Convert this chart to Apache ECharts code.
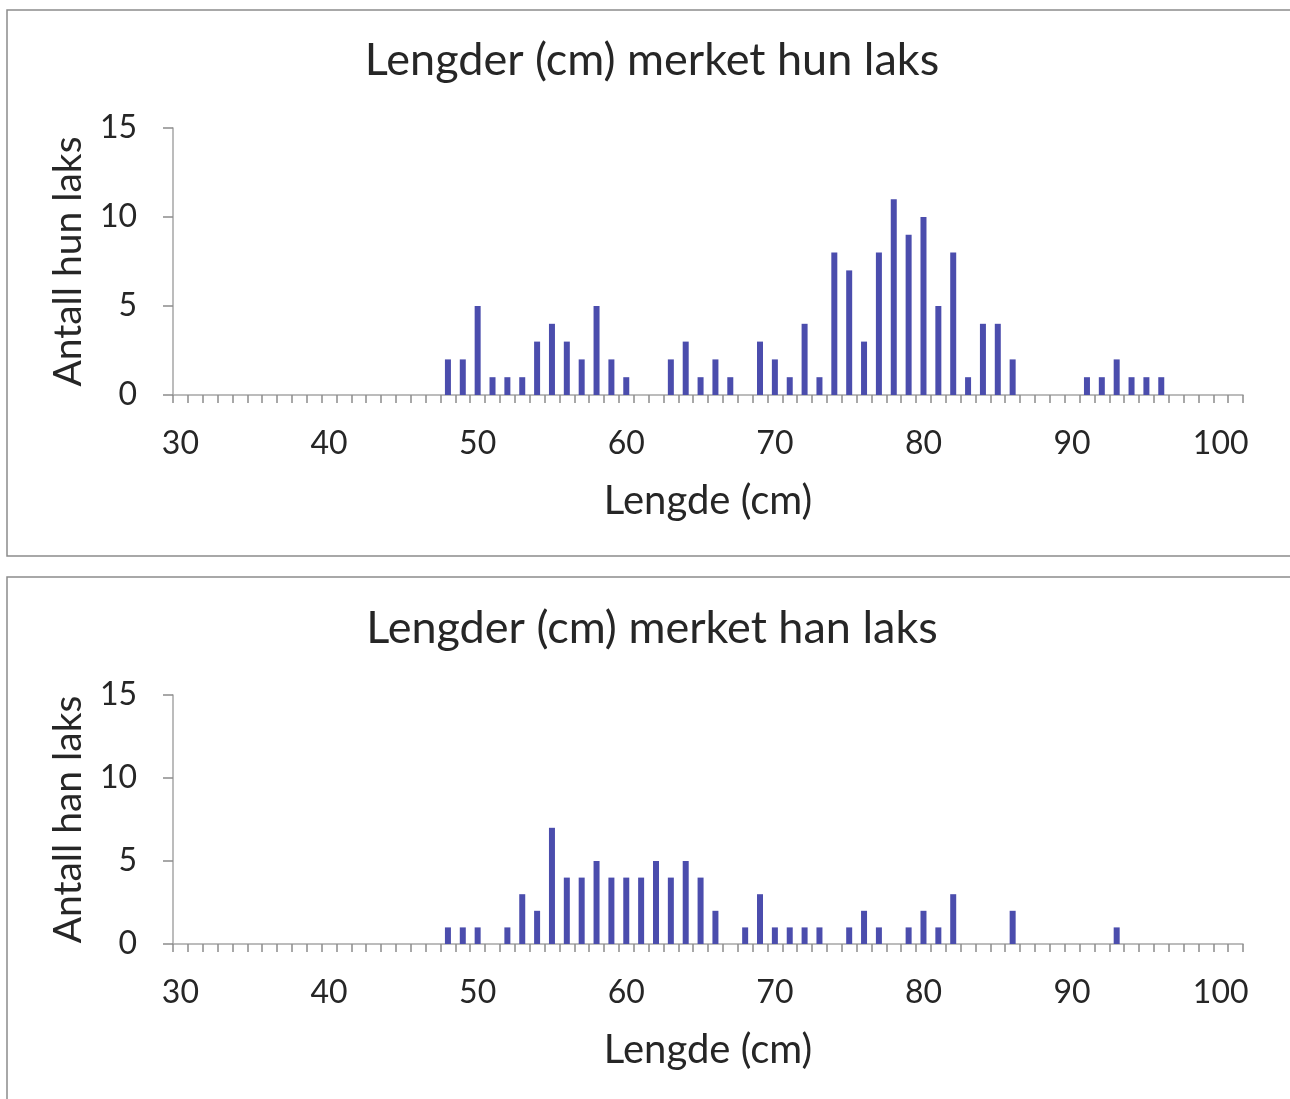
<!DOCTYPE html>
<html>
<head>
<meta charset="utf-8">
<script src="https://cdn.jsdelivr.net/npm/echarts@6/dist/echarts.min.js"></script>
<style>
html,body{margin:0;padding:0;background:#fff;}
#chart{width:1290px;height:1099px;}
</style>
</head>
<body>
<div id="chart"></div>
<script>
// Length categories (cm)
const lengths = [];
for (let v = 30; v <= 101; v++) lengths.push(String(v));

// Female (hun) counts by length
const hunLengths = [48,49,50,51,52,53,54,55,56,57,58,59,60,63,64,65,66,67,69,70,71,72,73,74,75,76,77,78,79,80,81,82,83,84,85,86,91,92,93,94,95,96];
const hunCounts  = [2, 2, 5, 1, 1, 1, 3, 4, 3, 2, 5, 2, 1, 2, 3, 1, 2, 1, 3, 2, 1, 4, 1, 8, 7, 3, 8, 11,9, 10,5, 8, 1, 4, 4, 2, 1, 1, 2, 1, 1, 1];

// Male (han) counts by length
const hanLengths = [48,49,50,52,53,54,55,56,57,58,59,60,61,62,63,64,65,66,68,69,70,71,72,73,75,76,77,79,80,81,82,86,93];
const hanCounts  = [1, 1, 1, 1, 3, 2, 7, 4, 4, 5, 4, 4, 4, 5, 4, 5, 4, 2, 1, 3, 1, 1, 1, 1, 1, 2, 1, 1, 2, 1, 3, 2, 1];

const yTicks = [0, 5, 10, 15];

function toSeries(ls, cs) {
  const map = {};
  ls.forEach((l, i) => map[l] = cs[i]);
  return lengths.map(l => (map[+l] !== undefined ? map[+l] : null));
}

const FONT = 'Lato';
const TXT = '#262626';
const barColor = '#4B4DAD';

function xAxis(gridIndex) {
  return {
    type: 'category', gridIndex, data: lengths, boundaryGap: true,
    name: 'Lengde (cm)', nameLocation: 'middle', nameGap: 86,
    nameTextStyle: {fontFamily: FONT, fontSize: 40, color: TXT},
    axisLine: {lineStyle: {color: '#a6a6a6', width: 1.5}},
    axisTick: {show: true, interval: 0, length: 8, lineStyle: {color: '#8c8c8c', width: 1.5}},
    axisLabel: {interval: 9, margin: 33, fontFamily: FONT, fontSize: 32, color: TXT},
    splitLine: {show: false}
  };
}
function yAxis(gridIndex, name) {
  return {
    type: 'value', gridIndex, min: yTicks[0], max: yTicks[yTicks.length-1], interval: 5,
    name, nameLocation: 'middle', nameGap: 85,
    nameTextStyle: {fontFamily: FONT, fontSize: 39, color: TXT},
    axisLine: {show: true, lineStyle: {color: '#a6a6a6', width: 1.5}},
    axisTick: {show: true, length: 10, lineStyle: {color: '#8c8c8c', width: 1.5}},
    axisLabel: {margin: 36, fontFamily: FONT, fontSize: 32, color: TXT},
    splitLine: {show: false}
  };
}

const chart = echarts.init(document.getElementById('chart'), null, {renderer: 'canvas'});
chart.setOption({
  animation: false,
  backgroundColor: '#fff',
  graphic: [
    {type: 'rect', shape: {x: 7, y: 10, width: 1320, height: 546}, style: {fill: 'none', stroke: '#8c8c8c', lineWidth: 1.5}, z: -1},
    {type: 'rect', shape: {x: 7, y: 577, width: 1320, height: 600}, style: {fill: 'none', stroke: '#8c8c8c', lineWidth: 1.5}, z: -1}
  ],
  title: [
    {text: 'Lengder (cm) merket hun laks', left: 647, textAlign: 'center', top: 33, textStyle: {fontFamily: FONT, fontSize: 45, fontWeight: 'normal', color: TXT}},
    {text: 'Lengder (cm) merket han laks', left: 647, textAlign: 'center', top: 601, textStyle: {fontFamily: FONT, fontSize: 45, fontWeight: 'normal', color: TXT}}
  ],
  grid: [
    {left: 173, width: 1070, top: 128, height: 267},
    {left: 173, width: 1070, top: 695, height: 249}
  ],
  xAxis: [xAxis(0), xAxis(1)],
  yAxis: [yAxis(0, 'Antall hun laks'), yAxis(1, 'Antall han laks')],
  series: [
    {type: 'bar', xAxisIndex: 0, yAxisIndex: 0, data: toSeries(hunLengths, hunCounts), barWidth: 6, itemStyle: {color: barColor}},
    {type: 'bar', xAxisIndex: 1, yAxisIndex: 1, data: toSeries(hanLengths, hanCounts), barWidth: 6, itemStyle: {color: barColor}}
  ]
});
</script>
</body>
</html>
